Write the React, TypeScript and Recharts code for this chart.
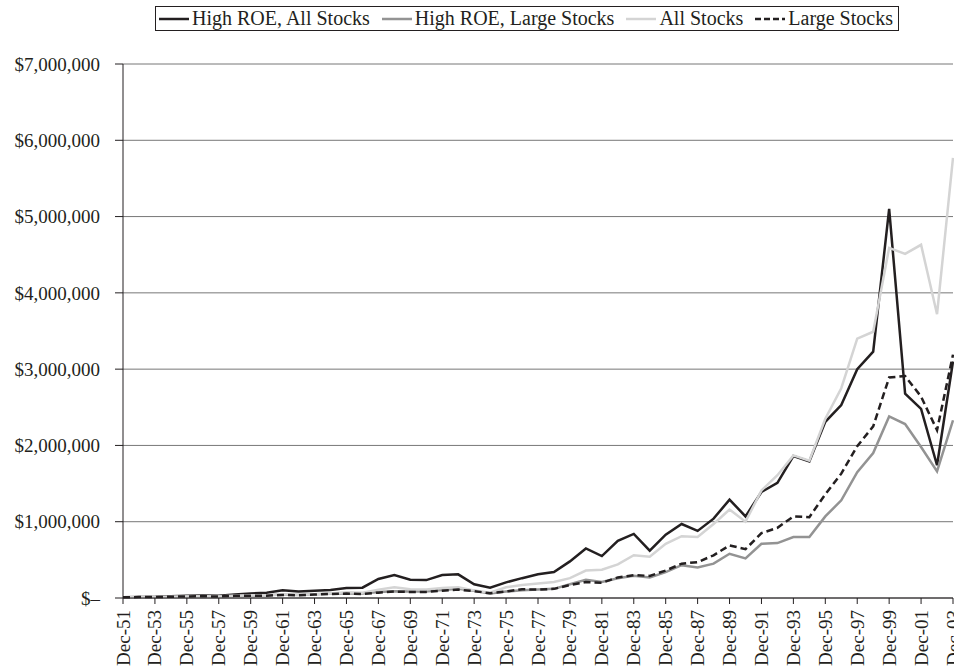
import React from "react";
import { LineChart, Line, XAxis, YAxis, CartesianGrid, Legend } from "recharts";

const years = [
  "Dec-51", "Dec-52", "Dec-53", "Dec-54", "Dec-55", "Dec-56", "Dec-57", "Dec-58", "Dec-59", "Dec-60",
  "Dec-61", "Dec-62", "Dec-63", "Dec-64", "Dec-65", "Dec-66", "Dec-67", "Dec-68", "Dec-69", "Dec-70",
  "Dec-71", "Dec-72", "Dec-73", "Dec-74", "Dec-75", "Dec-76", "Dec-77", "Dec-78", "Dec-79", "Dec-80",
  "Dec-81", "Dec-82", "Dec-83", "Dec-84", "Dec-85", "Dec-86", "Dec-87", "Dec-88", "Dec-89", "Dec-90",
  "Dec-91", "Dec-92", "Dec-93", "Dec-94", "Dec-95", "Dec-96", "Dec-97", "Dec-98", "Dec-99", "Dec-00",
  "Dec-01", "Dec-02", "Dec-03",
];

// High ROE, All Stocks
const highRoeAll = [
  10000, 12000, 14000, 22000, 28000, 32000, 30000, 45000, 60000, 70000,
  100000, 85000, 95000, 105000, 130000, 135000, 250000, 300000, 240000, 235000,
  300000, 310000, 180000, 135000, 205000, 260000, 310000, 340000, 480000, 650000,
  550000, 750000, 840000, 620000, 830000, 970000, 880000, 1040000, 1290000, 1070000,
  1390000, 1510000, 1860000, 1790000, 2310000, 2530000, 3000000, 3230000, 5100000, 2680000,
  2480000, 1740000, 3100000,
];

// High ROE, Large Stocks
const highRoeLarge = [
  10000, 11000, 12000, 18000, 22000, 23000, 22000, 30000, 34000, 35000,
  45000, 40000, 48000, 55000, 63000, 60000, 80000, 90000, 85000, 85000,
  105000, 120000, 95000, 60000, 85000, 100000, 110000, 120000, 180000, 240000,
  210000, 260000, 290000, 270000, 340000, 430000, 400000, 450000, 580000, 520000,
  710000, 720000, 800000, 800000, 1070000, 1280000, 1650000, 1900000, 2380000, 2280000,
  1980000, 1660000, 2330000,
];

// All Stocks
const allStocks = [
  10000, 11000, 11000, 17000, 20000, 22000, 20000, 30000, 36000, 36000,
  48000, 42000, 50000, 58000, 75000, 70000, 110000, 140000, 115000, 110000,
  130000, 140000, 100000, 70000, 140000, 170000, 190000, 210000, 260000, 360000,
  370000, 440000, 560000, 540000, 710000, 810000, 800000, 970000, 1160000, 1000000,
  1410000, 1610000, 1870000, 1800000, 2350000, 2750000, 3400000, 3490000, 4590000, 4510000,
  4630000, 3720000, 5770000,
];

// Large Stocks
const largeStocks = [
  10000, 11500, 11500, 17000, 21000, 22000, 20000, 28000, 31000, 31000,
  40000, 37000, 45000, 52000, 58000, 53000, 70000, 85000, 78000, 80000,
  95000, 110000, 90000, 62000, 85000, 115000, 110000, 120000, 170000, 210000,
  200000, 270000, 300000, 290000, 360000, 450000, 470000, 560000, 690000, 640000,
  850000, 920000, 1070000, 1060000, 1360000, 1630000, 1990000, 2250000, 2890000, 2910000,
  2640000, 2200000, 3190000,
];

const yTicks = [0, 1000000, 2000000, 3000000, 4000000, 5000000, 6000000, 7000000];

const data = years.map((year, i) => ({
  year,
  highRoeAll: highRoeAll[i],
  highRoeLarge: highRoeLarge[i],
  allStocks: allStocks[i],
  largeStocks: largeStocks[i],
}));

const FONT = '"Liberation Serif", "Times New Roman", serif';
const INK = "#231f20";

const series = [
  { key: "highRoeAll", name: "High ROE, All Stocks", color: INK, dash: undefined },
  { key: "highRoeLarge", name: "High ROE, Large Stocks", color: "#939393", dash: undefined },
  { key: "allStocks", name: "All Stocks", color: "#d4d4d4", dash: undefined },
  { key: "largeStocks", name: "Large Stocks", color: INK, dash: "7 4" },
];

const formatDollar = (v: number) => (v === 0 ? "$–" : "$" + v.toLocaleString("en-US"));

const XTick = ({ x, y, payload }: any) => (
  <text
    x={x}
    y={y}
    transform={`rotate(-90, ${x}, ${y})`}
    textAnchor="end"
    dominantBaseline="central"
    fill={INK}
    fontSize={19}
    fontFamily={FONT}
  >
    {payload.value}
  </text>
);

const LegendBox = () => (
  <div
    style={{
      display: "inline-flex",
      alignItems: "center",
      border: `1px solid ${INK}`,
      padding: "0px 5px 0px 3px",
      fontFamily: FONT,
      fontSize: 20,
      color: INK,
      whiteSpace: "nowrap",
      background: "#fff",
    }}
  >
    {series.map((s, i) => (
      <span key={s.key} style={{ display: "inline-flex", alignItems: "center", marginLeft: i === 0 ? 0 : 12 }}>
        <svg width={30} height={10} style={{ marginRight: 3 }}>
          <line x1={0} y1={5} x2={30} y2={5} stroke={s.color} strokeWidth={2.5} strokeDasharray={s.dash ? "6 3" : undefined} />
        </svg>
        {s.name}
      </span>
    ))}
  </div>
);

export default function App() {
  return (
    <div style={{ position: "absolute", left: 0, top: 0, width: 954, height: 668, background: "#fff" }}>
      <LineChart
        width={954}
        height={668}
        data={data}
        margin={{ top: 64, right: 1, bottom: 0, left: 0 }}
        style={{ fontFamily: FONT }}
      >
        <CartesianGrid vertical={false} stroke="#777" strokeWidth={1} />
        <XAxis
          dataKey="year"
          interval={1}
          height={70}
          tick={<XTick />}
          tickSize={6}
          tickMargin={6}
          axisLine={{ stroke: INK }}
          tickLine={{ stroke: INK }}
          padding={{ left: 0, right: 0 }}
        />
        <YAxis
          width={123}
          domain={[0, 7000000]}
          ticks={yTicks}
          tickFormatter={formatDollar}
          tick={{ fill: INK, fontSize: 19, fontFamily: FONT }}
          tickSize={8}
          tickMargin={15}
          axisLine={{ stroke: INK }}
          tickLine={{ stroke: INK }}
        />
        <Legend
          verticalAlign="middle"
          layout="horizontal"
          content={<LegendBox />}
          wrapperStyle={{ top: 6, left: 155, width: "auto" }}
        />
        {series.map((s) => (
          <Line
            key={s.key}
            type="linear"
            dataKey={s.key}
            name={s.name}
            stroke={s.color}
            strokeWidth={2.5}
            strokeDasharray={s.dash}
            dot={false}
            activeDot={false}
            isAnimationActive={false}
          />
        ))}
      </LineChart>
    </div>
  );
}
